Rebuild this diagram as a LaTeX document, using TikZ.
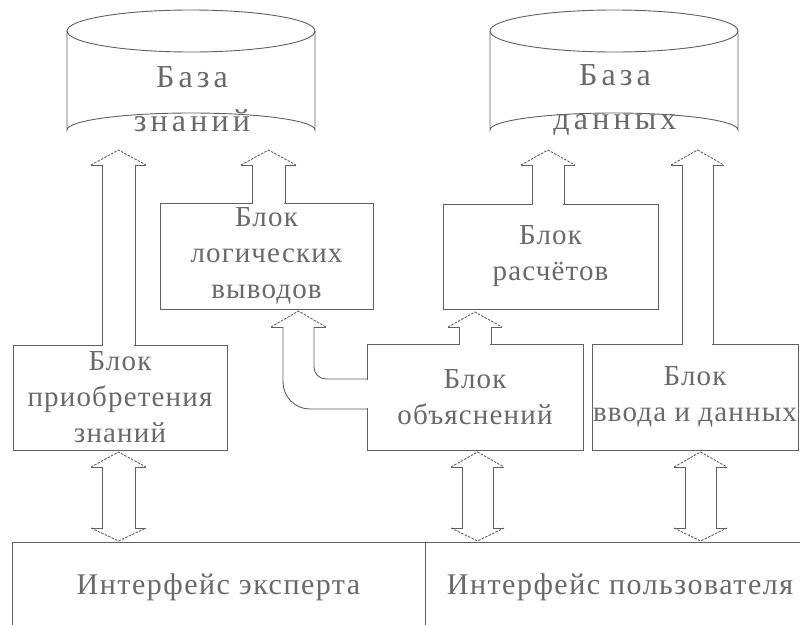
\documentclass[tikz,border=0pt]{standalone}
\usepackage{fontspec}
\setmainfont{Liberation Serif}
\definecolor{lc}{RGB}{95,95,100}
\definecolor{tc}{RGB}{105,105,105}
\tikzset{
  ln/.style={draw=lc, line width=0.9pt},
  wing/.style={draw=lc, line width=0.9pt, dash pattern=on 2.5pt off 1.3pt},
  boxn/.style={ln, rectangle, inner sep=0pt, align=center, text=tc,
    font=\fontsize{29}{36}\selectfont\addfontfeatures{LetterSpace=4}},
  cyltext/.style={inner sep=0pt, align=center, text=tc,
    font=\fontsize{32}{44}\selectfont\addfontfeatures{LetterSpace=13}},
  bottext/.style={ln, rectangle, inner sep=0pt, align=center, text=tc,
    font=\fontsize{30}{36}\selectfont\addfontfeatures{LetterSpace=5}},
}
% hollow up arrow: xl, xr, base y, wing y
\newcommand\hup[4]{%
  \fill[white] ({#1+0.7},{#3+2}) rectangle ({#2-0.7},{#4});
  \draw[ln] (#1,#3) -- (#1,#4) -- ({#1-11},#4);
  \draw[ln] (#2,#3) -- (#2,#4) -- ({#2+11},#4);
  \draw[wing] ({#1-11},#4) -- ({(#1+#2)/2},{#4-15}) -- ({#2+11},#4);
}
% hollow double arrow: xl, xr, top wing y, bottom wing y
\newcommand\hdbl[4]{%
  \draw[ln] ({#1-11},#3) -- (#1,#3) -- (#1,#4) -- ({#1-11},#4);
  \draw[ln] ({#2+11},#3) -- (#2,#3) -- (#2,#4) -- ({#2+11},#4);
  \draw[wing] ({#1-11},#3) -- ({(#1+#2)/2},{#3-15}) -- ({#2+11},#3);
  \draw[wing] ({#1-11},#4) -- ({(#1+#2)/2},{#4+13}) -- ({#2+11},#4);
}
\begin{document}
\begin{tikzpicture}[x=1pt,y=-1pt]
\useasboundingbox (0,0) rectangle (800,624);
\clip (0,0) rectangle (800,624);

% cylinders
\draw[ln] (191,31) ellipse [x radius=124, y radius=21];
\draw[ln] (67,31) -- (67,130) arc[start angle=180, end angle=360, x radius=124, y radius=17] -- (315,31);
\node[cyltext] (bz) at (192,99) {База\\знаний};

\draw[ln] (614,31) ellipse [x radius=124, y radius=21];
\draw[ln] (490,31) -- (490,130) arc[start angle=180, end angle=360, x radius=124, y radius=17] -- (738,31);
\node[cyltext] (bd) at (615,100) {База\\данных};

% blocks
\node[boxn, minimum width=214, minimum height=105] (prio) at (120,397.5) {Блок\\приобретения\\знаний};
\node[boxn, minimum width=213, minimum height=106] (logv) at (266.5,256) {Блок\\логических\\выводов};
\node[boxn, minimum width=215, minimum height=105] (rasch) at (550.5,256.5) {Блок\\расчётов};
\node[boxn, minimum width=216, minimum height=106] (obj) at (475,397) {Блок\\объяснений};
\node[boxn, minimum width=206, minimum height=106] (vvod) at (695,397) {Блок\\ввода и данных};

% interfaces
\node[bottext, minimum width=413, minimum height=90] (iexp) at (218.5,587) {Интерфейс эксперта};
\node[bottext, minimum width=390, minimum height=90] (iuser) at (620,587) {Интерфейс пользователя};

% arrows to the knowledge base
\hup{102}{135}{345}{165}
\hup{252}{285}{203}{165}
% arrows to the database
\hup{532}{564}{204}{165}
\hup{682}{713}{344}{165}
% explanation -> calculations
\hup{459}{491}{344}{327}

% explanation -> logical inference (curved)
\fill[white] (359,380) rectangle (369,408);
\fill[white] (284,326) rectangle (313,380);
\draw[ln, rounded corners=12pt] (314,327) -- (314,379) -- (367,379);
\draw[ln, rounded corners=27pt] (283,327) -- (283,409) -- (367,409);
\draw[ln] (283,327) -- (271,327);
\draw[ln] (314,327) -- (326,327);
\draw[wing] (271,327) -- (298.5,311) -- (326,327);

% double arrows to interfaces
\hdbl{102}{135}{467}{528}
\hdbl{462}{493}{467}{528}
\hdbl{685}{716}{467}{528}
\end{tikzpicture}
\end{document}
